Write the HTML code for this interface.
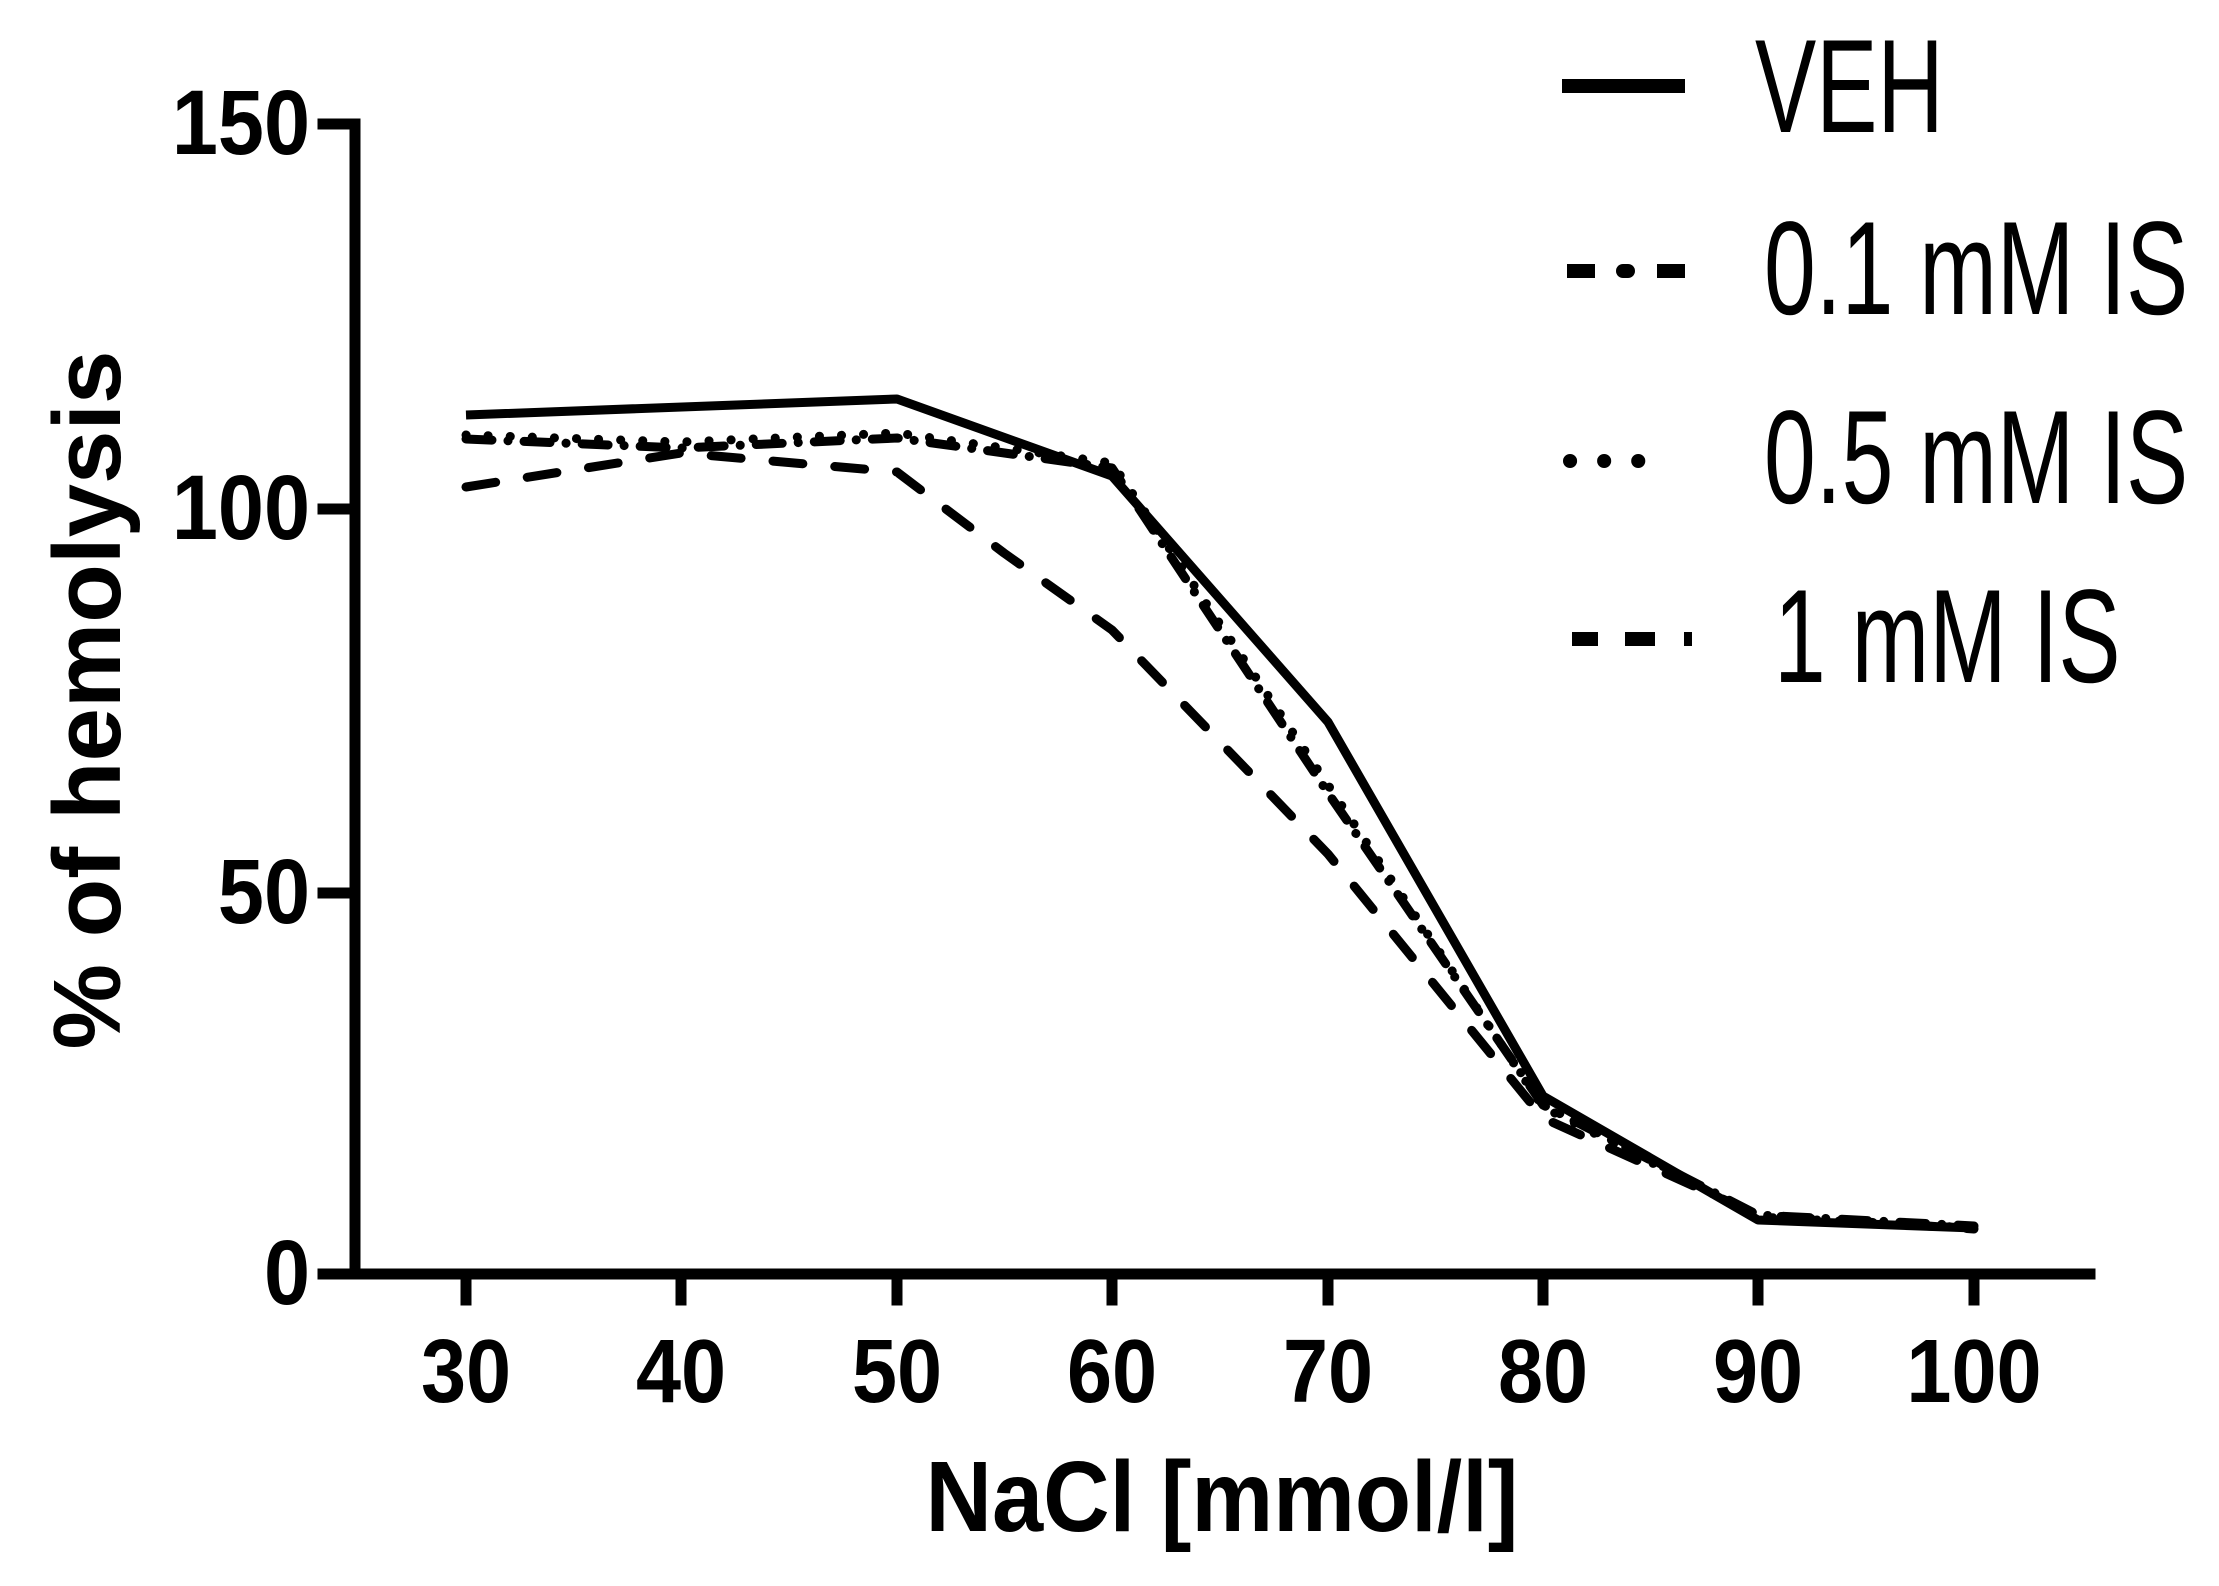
<!DOCTYPE html>
<html><head><meta charset="utf-8"><style>
html,body{margin:0;padding:0;background:#fff;}
svg{display:block;}
text{font-family:"Liberation Sans",Arial,sans-serif;fill:#000;}
</style></head><body>
<svg width="2219" height="1586" viewBox="0 0 2219 1586" xmlns="http://www.w3.org/2000/svg">
<g stroke="#000" stroke-width="11" fill="none" stroke-linecap="square">
<line x1="355" y1="124" x2="355" y2="1274"/>
<line x1="355" y1="1274" x2="2090" y2="1274"/>
<line x1="323" y1="124" x2="355" y2="124"/>
<line x1="323" y1="509" x2="355" y2="509"/>
<line x1="323" y1="893" x2="355" y2="893"/>
<line x1="323" y1="1274" x2="355" y2="1274"/>
<line x1="466" y1="1274" x2="466" y2="1300"/>
<line x1="681" y1="1274" x2="681" y2="1300"/>
<line x1="897" y1="1274" x2="897" y2="1300"/>
<line x1="1112" y1="1274" x2="1112" y2="1300"/>
<line x1="1328" y1="1274" x2="1328" y2="1300"/>
<line x1="1543" y1="1274" x2="1543" y2="1300"/>
<line x1="1758" y1="1274" x2="1758" y2="1300"/>
<line x1="1974" y1="1274" x2="1974" y2="1300"/>
</g>
<g font-weight="bold" font-size="92" text-anchor="end">
<text transform="translate(310,154) scale(0.9,1)">150</text>
<text transform="translate(310,539) scale(0.9,1)">100</text>
<text transform="translate(310,923) scale(0.9,1)">50</text>
<text transform="translate(310,1304) scale(0.9,1)">0</text>
</g>
<g font-weight="bold" font-size="90" text-anchor="middle">
<text transform="translate(466,1402) scale(0.9,1)">30</text>
<text transform="translate(681,1402) scale(0.9,1)">40</text>
<text transform="translate(897,1402) scale(0.9,1)">50</text>
<text transform="translate(1112,1402) scale(0.9,1)">60</text>
<text transform="translate(1328,1402) scale(0.9,1)">70</text>
<text transform="translate(1543,1402) scale(0.9,1)">80</text>
<text transform="translate(1758,1402) scale(0.9,1)">90</text>
<text transform="translate(1974,1402) scale(0.9,1)">100</text>
</g>
<text transform="translate(1222,1531) scale(0.92,1)" font-weight="bold" font-size="100" text-anchor="middle">NaCl [mmol/l]</text>
<text transform="translate(120,700) rotate(-90)" font-weight="bold" font-size="96" text-anchor="middle">% of hemolysis</text>
<g fill="none" stroke="#000" stroke-width="9" stroke-linejoin="round">
<polyline points="466,415 897,399 1112,476 1328,722 1543,1096 1758,1220 1974,1228"/>
<polyline stroke-linecap="round" stroke-dasharray="26,16,0.1,16" points="466,439 681,448 897,438 1112,468 1328,793 1543,1105 1758,1215 1974,1226"/>
<polyline stroke-linecap="round" stroke-dasharray="0.1,22" points="466,435 681,442 897,433 1112,463 1328,785 1543,1107 1758,1217 1974,1228"/>
<polyline stroke-linecap="round" stroke-dasharray="30,32" points="466,487 681,453 897,472 1004,553 1112,630 1328,854 1543,1118 1758,1215 1974,1229"/>
</g>
<g stroke="#000" stroke-width="14" fill="none">
<line x1="1562" y1="86" x2="1685" y2="86"/>
<line x1="1567" y1="271" x2="1595" y2="271"/>
<line x1="1623" y1="271" x2="1628" y2="271" stroke-linecap="round"/>
<line x1="1657" y1="271" x2="1685" y2="271"/>
<line x1="1570" y1="461" x2="1672" y2="461" stroke-linecap="round" stroke-dasharray="0.1,34"/>
<line x1="1572" y1="639" x2="1598" y2="639"/>
<line x1="1625" y1="639" x2="1655" y2="639"/>
<line x1="1684" y1="639" x2="1692" y2="639"/>
</g>
<g font-size="133">
<text transform="translate(1755,132) scale(0.69,1)">VEH</text>
<text transform="translate(1764,314) scale(0.70,1)">0.1 mM IS</text>
<text transform="translate(1764,503) scale(0.70,1)">0.5 mM IS</text>
<text transform="translate(1774,682) scale(0.70,1)">1 mM IS</text>
</g>
</svg>
</body></html>
